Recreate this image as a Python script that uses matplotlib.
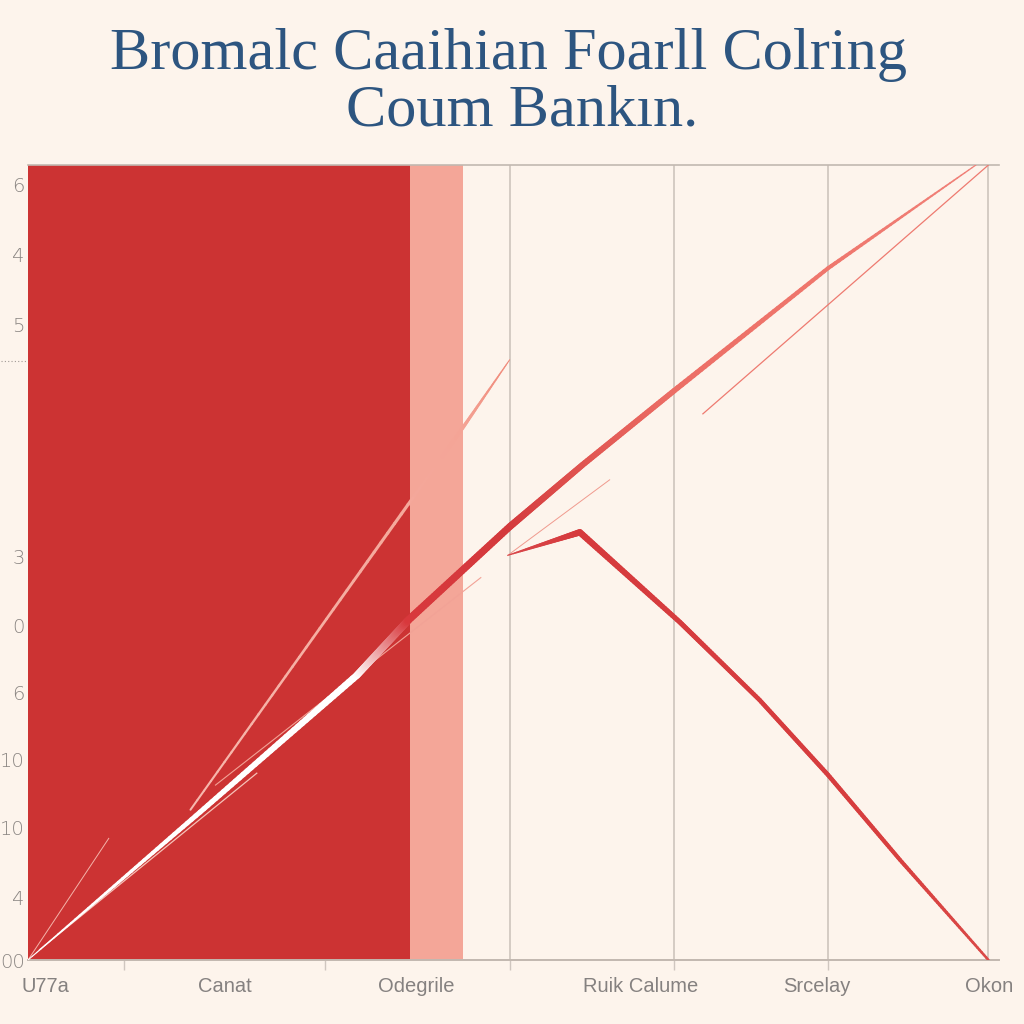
import numpy as np
import matplotlib.pyplot as plt
from matplotlib.collections import LineCollection
from matplotlib.colors import to_rgb

# title text (two lines)
title1 = 'Bromalc Caaihian Foarll Colring'
title2 = 'Coum Bankın.'

# y axis labels (they are not in order in the original)
ytick_pos = [9.75, 8.87, 7.99, 5.07, 4.21, 3.37, 2.52, 1.67, 0.79, 0.0]
ytick_lab = ['6', '4', '5', '3', '0', '6', '10', '10', '4', '00']

# x axis labels and tick marks
xlab_pos = [0.18, 2.05, 4.04, 6.37, 8.21, 10.0]
xlab = ['U77a', 'Canat', 'Odegrile', 'Ruik Calume', 'Srcelay', 'Okon']
xmark_pos = [1.0, 3.09, 5.01, 6.72, 8.32]
grid_x = [5.01, 6.72, 8.32, 9.99]

# the two background columns
bar_left = [0.0, 3.97]
bar_width = [3.97, 0.55]
bar_height = [10.0, 10.0]

# main rising line
main_x = [0, 1.79, 3.42, 3.96, 5.01, 5.77, 6.72, 8.32, 9.86]
main_y = [0, 1.86, 3.58, 4.28, 5.45, 6.23, 7.16, 8.70, 10.0]

# steep pink line
pink_x = [1.69, 4.52, 5.01]
pink_y = [1.89, 6.69, 7.55]

# peaked red line
peak_x = [4.99, 5.74, 6.78, 7.61, 8.32, 9.07, 9.99]
peak_y = [5.09, 5.38, 4.25, 3.27, 2.33, 1.26, 0.0]

# thin extra strokes: (x0, y0, x1, y1)
thin_x0 = [0.0, 0.12, 1.95, 4.99, 7.02]
thin_y0 = [0.0, 0.13, 2.20, 5.09, 6.87]
thin_x1 = [0.84, 2.38, 4.71, 6.05, 9.99]
thin_y1 = [1.53, 2.35, 4.81, 6.04, 10.0]
thin_col = ['#f4b4aa', '#f6c2b8', '#f2a296', '#f09a8e', '#ee7a70']
thin_w = [0.7, 0.9, 0.8, 0.7, 0.9]

bg = '#fdf4ec'


def tapered(ax, xs, ys, widths, colors, n=40, z=4):
    # draws a line whose width and colour change along it
    segs, lw, cs = [], [], []
    for i in range(len(xs) - 1):
        c0 = np.array(to_rgb(colors[i]))
        c1 = np.array(to_rgb(colors[i + 1]))
        t = np.linspace(0, 1, n + 1)
        px = xs[i] + (xs[i + 1] - xs[i]) * t
        py = ys[i] + (ys[i + 1] - ys[i]) * t
        for k in range(n):
            f = (t[k] + t[k + 1]) / 2
            segs.append([(px[k], py[k]), (px[k + 1], py[k + 1])])
            lw.append(widths[i] + (widths[i + 1] - widths[i]) * f)
            cs.append(c0 + (c1 - c0) * f)
    lc = LineCollection(segs, linewidths=lw, colors=cs, capstyle='round', zorder=z)
    ax.add_collection(lc)


fig = plt.figure(figsize=(10.24, 10.24), dpi=100, facecolor=bg)
ax = fig.add_axes([28 / 1024, 64 / 1024, 971 / 1024, 795 / 1024])
ax.set_facecolor(bg)
ax.set_xlim(0, 10.1)
ax.set_ylim(0, 10)

ax.bar(bar_left, bar_height, width=bar_width, align='edge',
       color=['#cc3333', '#f4a698'], zorder=1)

for gx in grid_x:
    ax.axvline(gx, color='#c9c0b9', lw=1.1, zorder=2)

px2pt = 0.72
tapered(ax, main_x, main_y,
        [w * px2pt for w in [1, 5, 7, 7.5, 7, 6, 5.5, 4, 1.2]],
        ['#ffffff', '#ffffff', '#ffffff', '#d8383c', '#d43a3d', '#e05450',
         '#ec6e66', '#ef776d', '#f08078'], z=5)
tapered(ax, pink_x, pink_y,
        [w * px2pt for w in [2, 3.5, 1]],
        ['#f7b8ae', '#f4a496', '#f08878'], z=4)
tapered(ax, peak_x, peak_y,
        [w * px2pt for w in [1, 6.5, 5, 4.5, 4.5, 4, 2.5]],
        ['#d8474a', '#d63a3d', '#d63c3e', '#d63c3e', '#d63c3e', '#d8403f', '#da4a48'], z=5)

for i in range(len(thin_x0)):
    ax.plot([thin_x0[i], thin_x1[i]], [thin_y0[i], thin_y1[i]],
            color=thin_col[i], lw=thin_w[i], zorder=3)

# spines
for s in ['left', 'right']:
    ax.spines[s].set_visible(False)
ax.spines['top'].set_color('#c2b8b0')
ax.spines['bottom'].set_color('#c2b8b0')
ax.spines['top'].set_linewidth(1.2)
ax.spines['bottom'].set_linewidth(1.4)

ax.set_yticks(ytick_pos)
ax.set_yticklabels(ytick_lab)
ax.tick_params(axis='y', length=0, pad=2.5, labelsize=14, labelcolor='#8a8582')
for t in ax.get_yticklabels():
    t.set_family('DejaVu Sans')
    t.set_fontweight('light')

ax.set_xticks(xlab_pos)
ax.set_xticklabels(xlab)
ax.set_xticks(xmark_pos, minor=True)
ax.tick_params(axis='x', which='major', length=0, pad=12, labelsize=14.5,
               labelcolor='#858180')
ax.tick_params(axis='x', which='minor', length=7, width=1, color='#cfc6bf')
for t in ax.get_xticklabels():
    t.set_family('Liberation Sans')

# dotted mark at the left edge
ax.hlines(7.53, -0.028, -0.002, transform=ax.get_yaxis_transform(),
          colors='#a09a96', linestyles=(0, (1, 2)), lw=0.8, clip_on=False)

fig.text(509 / 1024, 1 - 55 / 1024, title1, ha='center', va='center',
         fontsize=43.5, family='Liberation Serif', color='#2d5580')
fig.text(522 / 1024, 1 - 112 / 1024, title2, ha='center', va='center',
         fontsize=43.5, family='Liberation Serif', color='#2d5580')

fig.savefig('out.png', dpi=100, facecolor=bg)
